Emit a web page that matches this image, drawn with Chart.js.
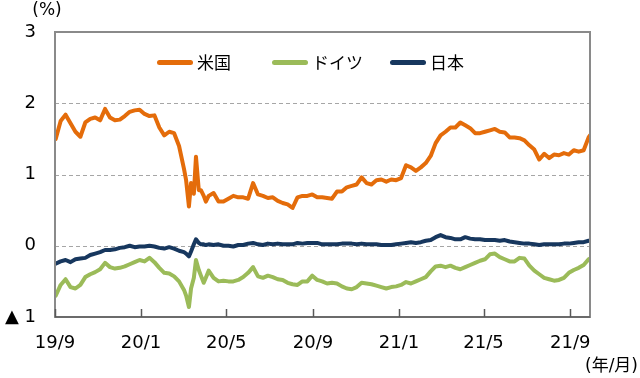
<!DOCTYPE html>
<html><head><meta charset="utf-8">
<script src="https://cdn.jsdelivr.net/npm/chart.js@4/dist/chart.umd.min.js"></script>
<style>html,body{margin:0;padding:0;background:#fff}canvas{display:block}</style>
</head><body>
<canvas id="c" width="640" height="378"></canvas>
<script>
const dates = [
"2019-09-02","2019-09-09","2019-09-16","2019-09-23","2019-09-30",
"2019-10-07","2019-10-14","2019-10-21","2019-10-28",
"2019-11-04","2019-11-11","2019-11-18","2019-11-25",
"2019-12-02","2019-12-09","2019-12-16","2019-12-23","2019-12-30",
"2020-01-06","2020-01-13","2020-01-20","2020-01-27",
"2020-02-03","2020-02-10","2020-02-17","2020-02-24",
"2020-03-02","2020-03-05","2020-03-09","2020-03-12","2020-03-16","2020-03-19","2020-03-23","2020-03-26","2020-03-30","2020-04-02",
"2020-04-06","2020-04-13","2020-04-20","2020-04-27",
"2020-05-04","2020-05-11","2020-05-18","2020-05-25",
"2020-06-01","2020-06-08","2020-06-15","2020-06-22","2020-06-29",
"2020-07-06","2020-07-13","2020-07-20","2020-07-27",
"2020-08-03","2020-08-10","2020-08-17","2020-08-24","2020-08-31",
"2020-09-07","2020-09-14","2020-09-21","2020-09-28",
"2020-10-05","2020-10-12","2020-10-19","2020-10-26",
"2020-11-02","2020-11-09","2020-11-16","2020-11-23","2020-11-30",
"2020-12-07","2020-12-14","2020-12-21","2020-12-28",
"2021-01-04","2021-01-11","2021-01-18","2021-01-25",
"2021-02-01","2021-02-08","2021-02-15","2021-02-22",
"2021-03-01","2021-03-08","2021-03-15","2021-03-22","2021-03-29",
"2021-04-05","2021-04-12","2021-04-19","2021-04-26",
"2021-05-03","2021-05-10","2021-05-17","2021-05-24","2021-05-31",
"2021-06-07","2021-06-14","2021-06-21","2021-06-28",
"2021-07-05","2021-07-12","2021-07-19","2021-07-26",
"2021-08-02","2021-08-09","2021-08-16","2021-08-23","2021-08-30",
"2021-09-06","2021-09-13","2021-09-20","2021-09-27","2021-09-29"
];

const usValues = [
1.50,1.75,1.84,1.72,1.60,1.53,1.73,1.78,1.80,1.76,1.92,1.80,1.76,1.77,1.82,1.88,1.90,1.91,
1.85,1.82,1.83,1.66,1.55,1.60,1.58,1.40,
1.08,0.92,0.55,0.88,0.73,1.25,0.78,0.78,0.70,0.62,
0.70,0.74,0.62,0.62,0.66,0.70,0.68,0.68,
0.66,0.88,0.72,0.70,0.67,
0.68,0.63,0.60,0.58,
0.53,0.68,0.70,0.70,0.72,
0.68,0.68,0.67,0.66,
0.76,0.76,0.82,0.84,
0.86,0.96,0.88,0.86,0.92,
0.93,0.90,0.93,0.92,
0.95,1.13,1.10,1.05,
1.10,1.16,1.26,1.44,
1.55,1.60,1.66,1.66,1.73,
1.69,1.65,1.58,1.58,
1.60,1.62,1.64,1.60,1.59,
1.52,1.52,1.51,1.48,
1.41,1.35,1.21,1.29,
1.23,1.28,1.27,1.30,1.28,
1.34,1.32,1.34,1.52,1.55
];

const deValues = [
-0.70,-0.55,-0.47,-0.58,-0.60,-0.55,-0.44,-0.40,-0.37,-0.33,-0.24,-0.30,-0.32,-0.31,-0.29,-0.26,-0.23,-0.20,
-0.22,-0.17,-0.23,-0.31,-0.38,-0.39,-0.43,-0.50,
-0.62,-0.70,-0.86,-0.60,-0.45,-0.20,-0.34,-0.42,-0.52,-0.45,
-0.35,-0.45,-0.50,-0.49,-0.50,-0.50,-0.48,-0.44,
-0.38,-0.30,-0.43,-0.45,-0.42,
-0.44,-0.47,-0.48,-0.52,
-0.54,-0.55,-0.50,-0.50,-0.42,
-0.48,-0.50,-0.53,-0.52,
-0.53,-0.57,-0.60,-0.61,
-0.58,-0.52,-0.53,-0.54,-0.56,
-0.58,-0.60,-0.58,-0.57,
-0.55,-0.51,-0.53,-0.50,
-0.47,-0.44,-0.36,-0.29,
-0.28,-0.30,-0.28,-0.31,-0.33,
-0.30,-0.27,-0.24,-0.21,
-0.19,-0.12,-0.11,-0.16,-0.19,
-0.22,-0.22,-0.17,-0.18,
-0.28,-0.35,-0.40,-0.45,
-0.47,-0.49,-0.48,-0.45,-0.38,
-0.34,-0.31,-0.27,-0.19,-0.18
];

const jpValues = [
-0.25,-0.22,-0.20,-0.23,-0.19,-0.18,-0.17,-0.13,-0.11,-0.09,-0.06,-0.06,-0.05,-0.03,-0.02,0.00,-0.02,-0.01,
-0.01,0.00,-0.01,-0.03,-0.04,-0.02,-0.04,-0.07,
-0.09,-0.11,-0.15,-0.08,0.02,0.09,0.04,0.02,0.02,0.01,
0.02,0.01,0.02,0.00,0.00,-0.01,0.01,0.01,
0.03,0.04,0.02,0.01,0.03,
0.02,0.03,0.02,0.02,
0.02,0.04,0.03,0.04,0.04,
0.04,0.02,0.02,0.02,
0.02,0.03,0.03,0.03,
0.02,0.03,0.02,0.02,0.02,
0.01,0.01,0.01,0.02,
0.03,0.04,0.05,0.04,
0.05,0.07,0.08,0.12,
0.15,0.12,0.11,0.09,0.09,
0.12,0.10,0.09,0.09,
0.08,0.08,0.08,0.07,0.08,
0.06,0.05,0.04,0.03,
0.03,0.02,0.01,0.02,
0.02,0.02,0.02,0.03,0.03,
0.04,0.05,0.05,0.07,0.07
];

const seriesNames = ["米国", "ドイツ", "日本"];
const seriesColors = ["#E46C0A", "#9BBB59", "#17375E"];
const tickDates = ["2019-09-01","2020-01-01","2020-05-01","2020-09-01","2021-01-01","2021-05-01","2021-09-01"];
const tickLabels = ["19/9","20/1","20/5","20/9","21/1","21/5","21/9"];
const yTickValues = [3, 2, 1, 0, -1];
const yTickLabels = ["3", "2", "1", "0", "▲ 1"];
const yGridValues = [2, 1, 0];
const yUnit = "(%)";
const xUnit = "(年/月)";
const startDate = "2019-09-01";
const endDate = "2021-09-29";

function dayOf(s) {
  return Math.round((Date.parse(s + "T00:00:00Z") - Date.parse(startDate + "T00:00:00Z")) / 86400000);
}

const FONT = "'DejaVu Sans', 'Noto Sans CJK JP', sans-serif";
const CJK = "'Noto Sans CJK JP', 'DejaVu Sans', sans-serif";

const framePlugin = {
  id: "frame",
  beforeDatasetsDraw(chart) {
    const { ctx, chartArea: a, scales: { y } } = chart;
    ctx.save();
    ctx.strokeStyle = "#a6a6a6";
    ctx.lineWidth = 1.2;
    ctx.setLineDash([4, 3]);
    yGridValues.forEach(v => {
      const py = Math.round(y.getPixelForValue(v)) + 0.5;
      ctx.beginPath(); ctx.moveTo(a.left, py); ctx.lineTo(a.right, py); ctx.stroke();
    });
    ctx.restore();
  },
  afterDatasetsDraw(chart) {
    const { ctx, chartArea: a, scales: { x } } = chart;
    ctx.save();
    ctx.setLineDash([]);
    ctx.strokeStyle = "#8a8a8a";
    ctx.lineWidth = 2;
    ctx.strokeRect(a.left, a.top, a.right - a.left, a.bottom - a.top);
    ctx.strokeStyle = "#6b6b6b";
    ctx.beginPath(); ctx.moveTo(a.left, a.bottom); ctx.lineTo(a.right, a.bottom); ctx.stroke();
    ctx.lineWidth = 1.5;
    ctx.strokeStyle = "#595959";
    tickDates.forEach(d => {
      const px = Math.round(x.getPixelForValue(dayOf(d))) + 0.5;
      ctx.beginPath(); ctx.moveTo(px, a.bottom); ctx.lineTo(px, a.bottom - 8); ctx.stroke();
    });
    ctx.restore();
  },
  afterDraw(chart) {
    const { ctx } = chart;
    ctx.save();
    ctx.fillStyle = "#000";
    ctx.textBaseline = "middle";
    ctx.font = "17px " + FONT;
    ctx.textAlign = "center";
    ctx.fillText(yUnit, 47, 11);
    ctx.textAlign = "right";
    ctx.fillText(xUnit, 638, 367);
    // legend
    const starts = [157, 272, 390];
    const ly = 62.5;
    chart.data.datasets.forEach((ds, i) => {
      const x0 = starts[i];
      ctx.fillStyle = ds.borderColor;
      ctx.beginPath();
      ctx.roundRect(x0, ly - 2.5, 36, 5, 2.5);
      ctx.fill();
      ctx.fillStyle = "#000";
      ctx.textAlign = "left";
      ctx.font = "17px " + CJK;
      ctx.fillText(ds.label, x0 + 40, ly);
    });
    ctx.restore();
  }
};

function series(vals) {
  return dates.map((d, i) => ({ x: dayOf(d), y: vals[i] }));
}

new Chart(document.getElementById("c"), {
  type: "line",
  data: {
    datasets: [
      { label: seriesNames[0], data: series(usValues), borderColor: seriesColors[0], backgroundColor: seriesColors[0] },
      { label: seriesNames[1], data: series(deValues), borderColor: seriesColors[1], backgroundColor: seriesColors[1] },
      { label: seriesNames[2], data: series(jpValues), borderColor: seriesColors[2], backgroundColor: seriesColors[2] }
    ]
  },
  options: {
    responsive: false,
    animation: false,
    layout: { padding: { top: 32, right: 50, left: 0, bottom: 0 } },
    plugins: { legend: { display: false }, tooltip: { enabled: false } },
    elements: {
      point: { radius: 0 },
      line: { borderWidth: 4, tension: 0, borderJoinStyle: "round", borderCapStyle: "round", fill: false }
    },
    scales: {
      x: {
        type: "linear",
        min: dayOf(startDate),
        max: dayOf(endDate),
        grid: { display: false, drawTicks: false },
        border: { display: false },
        afterBuildTicks: s => { s.ticks = tickDates.map(d => ({ value: dayOf(d) })); },
        afterFit: s => { s.height = 61; },
        ticks: {
          autoSkip: false, maxRotation: 0, minRotation: 0, padding: 16, color: "#000",
          font: { family: FONT, size: 18 },
          callback: (v, i) => tickLabels[i]
        }
      },
      y: {
        min: -1, max: 3,
        grid: { display: false, drawTicks: false },
        border: { display: false },
        afterBuildTicks: s => { s.ticks = yTickValues.map(v => ({ value: v })); },
        afterFit: s => { s.width = 55; },
        ticks: {
          padding: 19, color: "#000",
          font: { family: FONT, size: 18 },
          callback: (v, i) => yTickLabels[yTickValues.indexOf(v)]
        }
      }
    }
  },
  plugins: [framePlugin]
});
</script>
</body></html>
